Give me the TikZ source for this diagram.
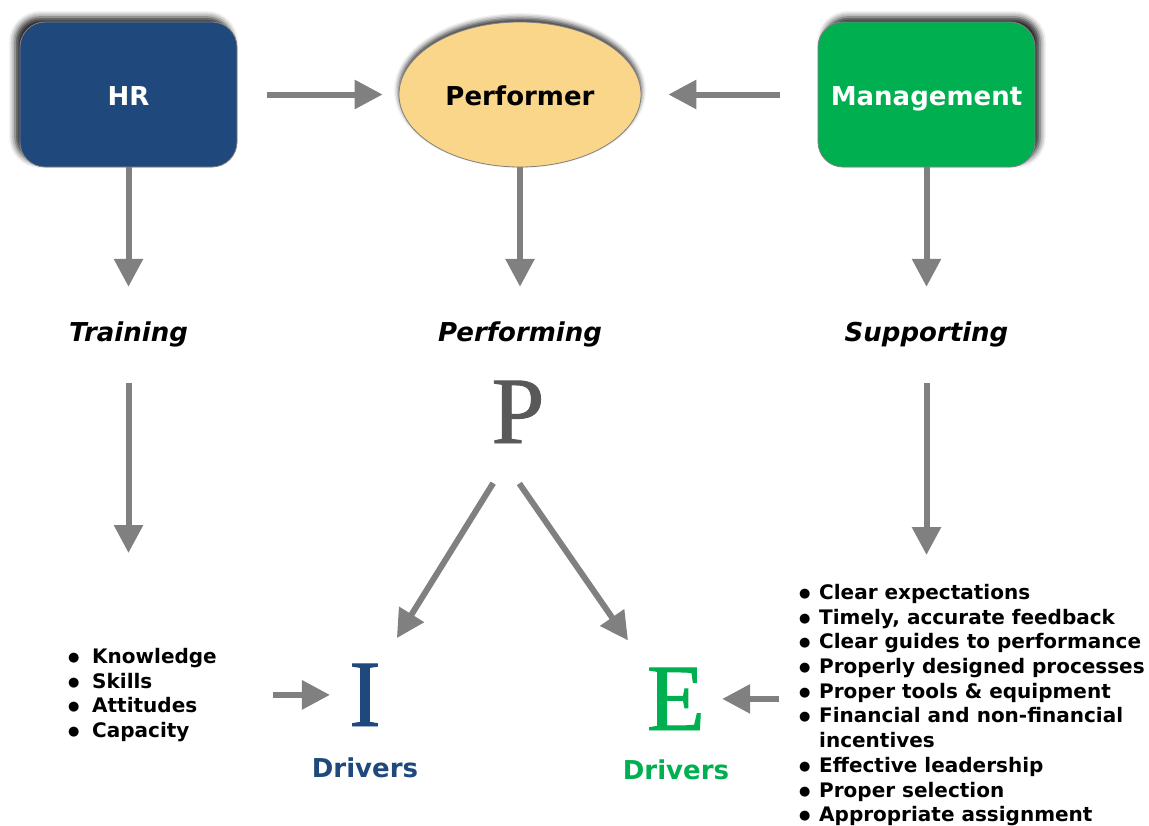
\documentclass[tikz,border=0pt]{standalone}
\usepackage{fontspec}
\setmainfont{DejaVu Sans}
\newfontfamily\bigserif[FakeBold=1]{Liberation Serif}
\usetikzlibrary{shapes, arrows.meta, positioning, calc, shadows.blur}

\definecolor{hrblue}{RGB}{31, 73, 125}
\definecolor{mgtgreen}{RGB}{0, 176, 80}
\definecolor{perfgold}{RGB}{250, 214, 138}
\definecolor{arrowgray}{RGB}{128, 128, 128}
\definecolor{lettergray}{RGB}{89, 89, 89}

\newcommand{\bul}[1]{\makebox[#1][l]{\raisebox{2pt}{\fontsize{13}{13}\selectfont ●}}}

\tikzset{
  rolebox/.style={rectangle, rounded corners=25pt, draw=arrowgray, line width=0.8pt,
    minimum width=217pt, minimum height=145pt, inner sep=0pt, text=white,
    text height=21pt, text depth=0pt, font=\fontsize{26}{30}\selectfont\bfseries},
  stage/.style={inner sep=0pt, text height=19pt, text depth=5pt,
    font=\fontsize{26}{30}\selectfont\bfseries\itshape},
  bigletter/.style={inner sep=0pt, anchor=base, font=\fontsize{95}{95}\selectfont\bigserif},
  drivers/.style={inner sep=0pt, font=\fontsize{26}{30}\selectfont\bfseries},
  bullets/.style={inner sep=0pt, align=left, anchor=north west,
    font=\fontsize{20}{24.7}\selectfont\bfseries},
  flow/.style={draw=arrowgray, line width=6pt, -{Triangle[length=28pt, width=28pt]}},
}

\begin{document}
\begin{tikzpicture}[x=1pt, y=-1pt]
  \useasboundingbox (0,0) rectangle (1149,825);

  % top row
  \node[rolebox, fill=hrblue, blur shadow={shadow xshift=-5pt, shadow yshift=5pt,
    shadow opacity=85, shadow blur radius=6pt}] (hr) at (128.5,94.5) {HR};
  \node[ellipse, draw=arrowgray, line width=0.8pt, fill=perfgold, minimum width=242pt,
    minimum height=145pt, inner sep=0pt, text height=21pt, text depth=0pt,
    font=\fontsize{26}{30}\selectfont\bfseries,
    blur shadow={shadow xshift=0pt, shadow yshift=4pt, shadow opacity=80,
    shadow blur radius=5pt}] (perf) at (520,94.5) {Performer};
  \node[rolebox, fill=mgtgreen, blur shadow={shadow xshift=5pt, shadow yshift=5pt,
    shadow opacity=85, shadow blur radius=6pt}] (mgt) at (926.5,94.5) {Management};

  \node[stage] (train) at (128.5,334) {Training};
  \node[stage] (perfing) at (520,334) {Performing};
  \node[stage] (supp) at (926.5,334) {Supporting};

  % letters
  \node[bigletter, text=lettergray] (pltr) at (518,443) {P};
  \node[bigletter, text=hrblue] (iltr) at (365,726) {I};
  \node[bigletter, text=mgtgreen] (eltr) at (676,730) {E};
  \node[drivers, text=hrblue, below=31pt of iltr] (idrv) {Drivers};
  \node[drivers, text=mgtgreen, below=29pt of eltr] (edrv) {Drivers};

  % lists
  \node[bullets] (klist) at (68,648) {\bul{24pt}Knowledge\\ \bul{24pt}Skills\\
    \bul{24pt}Attitudes\\ \bul{24pt}Capacity};
  \node[bullets] (slist) at (799,584) {\bul{20pt}Clear expectations\\
    \bul{20pt}Timely, accurate feedback\\ \bul{20pt}Clear guides to performance\\
    \bul{20pt}Properly designed processes\\ \bul{20pt}Proper tools \& equipment\\
    \bul{20pt}Financial and non-financial\\ \hspace*{20pt}incentives\\
    \bul{20pt}Effective leadership\\ \bul{20pt}Proper selection\\
    \bul{20pt}Appropriate assignment};

  % arrows
  \draw[flow, shorten <=30pt, shorten >=16pt] (hr) -- (perf);
  \draw[flow, shorten <=38pt, shorten >=27pt] (mgt) -- (perf);
  \draw[flow, shorten >=35pt] (hr) -- (train);
  \draw[flow, shorten >=35pt] (perf) -- (perfing);
  \draw[flow, shorten >=35pt] (mgt) -- (supp);
  \draw[flow, shorten <=37pt, shorten >=95pt] (train) -- (train |- klist.north);
  \draw[flow, shorten <=37pt, shorten >=29pt] (supp) -- (supp |- slist.north);
  \draw[flow, shorten <=47pt, shorten >=30pt] (pltr.south) -- (iltr.north east);
  \draw[flow, shorten <=49pt, shorten >=33pt] (pltr.south west) -- (eltr.north west);
  \draw[flow, shorten <=56pt, shorten >=19pt] (klist.east |- iltr) -- (iltr);
  \draw[flow, shorten <=20pt, shorten >=17pt] (slist.west |- eltr) -- (eltr);
\end{tikzpicture}
\end{document}
